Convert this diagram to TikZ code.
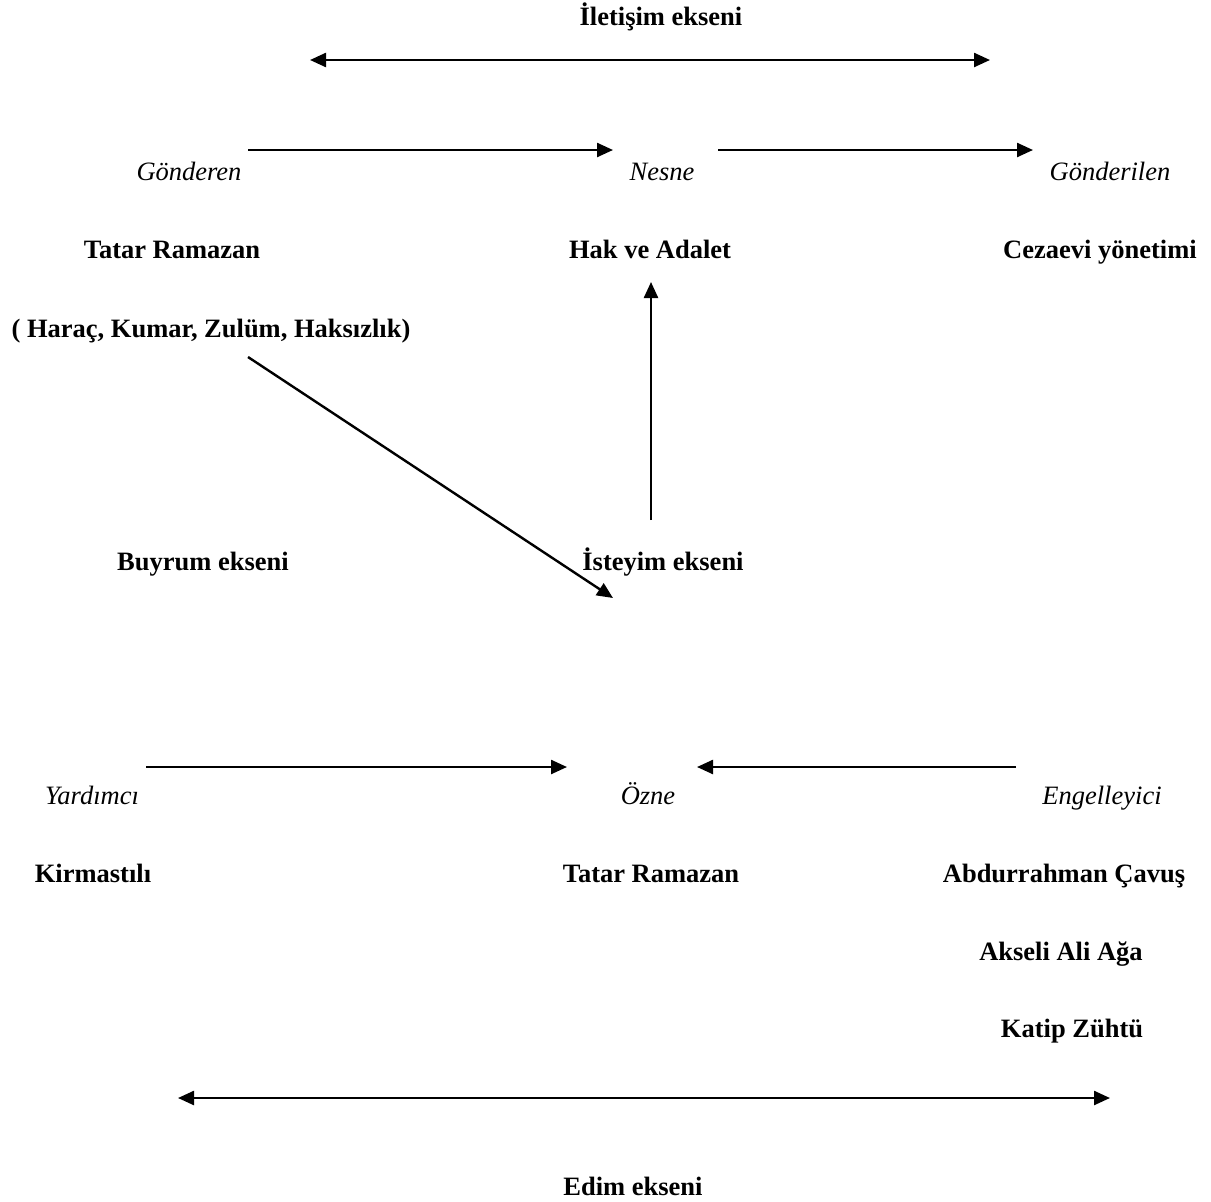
\documentclass[tikz,border=0pt]{standalone}
\usepackage{fontspec}
\setmainfont{Liberation Serif}
\usetikzlibrary{arrows.meta}
\begin{document}
\begin{tikzpicture}[x=1pt,y=-1pt,
  lbl/.style={anchor=base,inner sep=0pt,font=\fontsize{26.5}{30}\selectfont},
  bl/.style={lbl,font=\fontsize{26.5}{30}\selectfont\bfseries},
  it/.style={lbl,font=\fontsize{26.5}{30}\selectfont\itshape},
  arr/.style={line width=2.4pt,-{Triangle[length=16pt,width=14pt]}},
  darr/.style={line width=2.4pt,{Triangle[length=16pt,width=14pt]}-{Triangle[length=16pt,width=14pt]}}]
\useasboundingbox (0,0) rectangle (1211,1202);
% texts
\node[bl] (ilet) at (661,25) {İletişim ekseni};
\node[it] (gond) at (189,180) {Gönderen};
\node[it] (nesne) at (662,180) {Nesne};
\node[it] (gondl) at (1110,180) {Gönderilen};
\node[bl] (tatar1) at (172,258) {Tatar Ramazan};
\node[bl] (hak) at (650,258) {Hak ve Adalet};
\node[bl] (cez) at (1100,258) {Cezaevi yönetimi};
\node[bl] (harac) at (211,337) {( Haraç, Kumar, Zulüm, Haksızlık)};
\node[bl] (buyrum) at (203,570) {Buyrum ekseni};
\node[bl] (isteyim) at (663,570) {İsteyim ekseni};
\node[it] (yard) at (92,804) {Yardımcı};
\node[it] (ozne) at (648,804) {Özne};
\node[it] (engel) at (1102,804) {Engelleyici};
\node[bl] (kirm) at (93,882) {Kirmastılı};
\node[bl] (tatar2) at (651,882) {Tatar Ramazan};
\node[bl] (abd) at (1064,882) {Abdurrahman Çavuş};
\node[bl] (aks) at (1061,960) {Akseli Ali Ağa};
\node[bl] (kat) at (1072,1037) {Katip Zühtü};
\node[bl] (edim) at (633,1195) {Edim ekseni};
% connector end points
\coordinate (t1) at (310,60);
\coordinate (t2) at (990,60);
\coordinate (a1) at (248,150);
\coordinate (a2) at (613,150);
\coordinate (b1) at (718,150);
\coordinate (b2) at (1033,150);
\coordinate (d1) at (248,357);
\coordinate (d2) at (613,598);
\coordinate (v1) at (651,520);
\coordinate (v2) at (651,282);
\coordinate (y1) at (146,767);
\coordinate (y2) at (567,767);
\coordinate (e1) at (1016,767);
\coordinate (e2) at (697,767);
\coordinate (m1) at (178,1098);
\coordinate (m2) at (1110,1098);
% connectors
\draw[darr] (t1) -- (t2);
\draw[arr] (a1) -- (a2);
\draw[arr] (b1) -- (b2);
\draw[arr] (d1) -- (d2);
\draw[arr] (v1) -- (v2);
\draw[arr] (y1) -- (y2);
\draw[arr] (e1) -- (e2);
\draw[darr] (m1) -- (m2);
\end{tikzpicture}
\end{document}
